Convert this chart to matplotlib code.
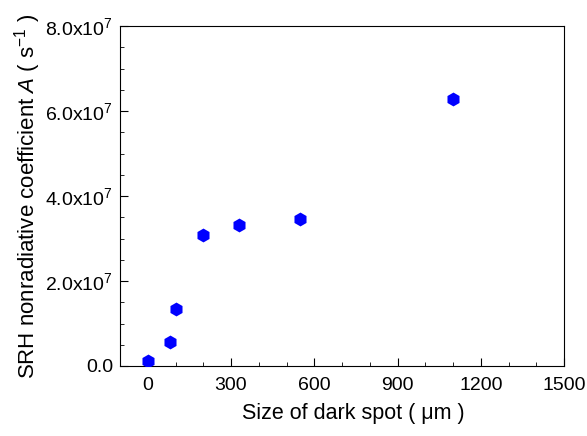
import numpy as np
import matplotlib
matplotlib.use("Agg")
import matplotlib.pyplot as plt
from matplotlib.ticker import MultipleLocator, FuncFormatter

plt.rcParams["font.family"] = ["Liberation Sans", "DejaVu Sans"]
plt.rcParams["mathtext.fontset"] = "custom"
plt.rcParams["mathtext.rm"] = "Liberation Sans"
plt.rcParams["mathtext.it"] = "Liberation Sans:italic"

# datos
tamano_mancha = [0, 80, 100, 200, 330, 550, 1100]
coef_a = [1.1e6, 5.6e6, 1.33e7, 3.08e7, 3.32e7, 3.46e7, 6.28e7]

fig = plt.figure(figsize=(5.87, 4.36), dpi=100)
ax = fig.add_axes([120 / 587, 1 - 366 / 436, 444 / 587, 340 / 436])

ax.scatter(tamano_mancha, coef_a, marker="h", s=100, color="#0000ff",
           linewidths=0, zorder=3)

ax.set_xlim(-100, 1500)
ax.set_ylim(0, 8e7)
ax.xaxis.set_major_locator(MultipleLocator(300))
ax.xaxis.set_minor_locator(MultipleLocator(100))
ax.yaxis.set_major_locator(MultipleLocator(2e7))
ax.yaxis.set_minor_locator(MultipleLocator(0.5e7))


def fmt_y(v, pos):
    if v == 0:
        return "0.0"
    return r"%.1fx10$^{7}$" % (v / 1e7)


ax.yaxis.set_major_formatter(FuncFormatter(fmt_y))
ax.tick_params(which="both", direction="in", top=False, right=False, labelsize=14)
ax.tick_params(which="major", length=6)
ax.tick_params(which="minor", length=3)
ax.tick_params(axis="x", pad=8)
ax.tick_params(axis="y", pad=5)

ax.set_xlabel("Size of dark spot ( μm )", fontsize=15.5)
ax.xaxis.set_label_coords(0.525, -0.11)
ax.set_ylabel(r"SRH nonradiative coefficient $A$ ( s$^{-1}$ )", fontsize=16, labelpad=2)

fig.savefig("out.png", dpi=100)
